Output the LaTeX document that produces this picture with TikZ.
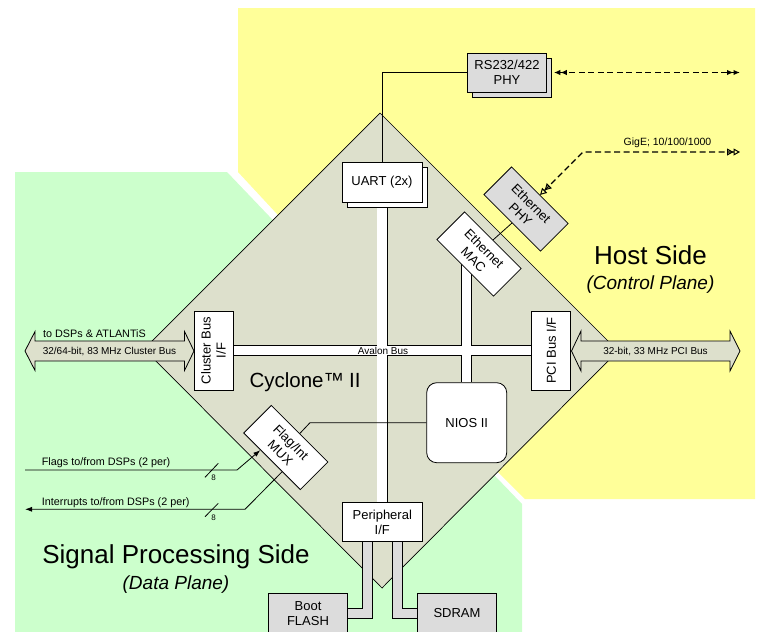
\documentclass[tikz,border=0pt]{standalone}
\usepackage{fontspec}
\setmainfont{Liberation Sans}
\usetikzlibrary{arrows.meta,calc,shadows}
\definecolor{ylw}{RGB}{255,255,153}
\definecolor{grn}{RGB}{204,255,204}
\definecolor{chip}{RGB}{221,224,204}
\definecolor{gbox}{RGB}{220,220,220}
\pgfdeclarelayer{bg}
\pgfdeclarelayer{bus}
\pgfsetlayers{bg,bus,main}
\tikzset{
  boxw/.style={draw=black, line width=0.8pt, fill=white, minimum width=80pt,
    minimum height=39pt, inner sep=1pt, align=center,
    font=\fontsize{13}{15}\selectfont},
  boxg/.style={boxw, fill=gbox},
  shadowbox/.style={general shadow={shadow xshift=5pt, shadow yshift=-5pt,
    fill=#1, draw=black, line width=0.8pt}},
  lbl/.style={inner sep=0pt, font=\fontsize{10.8}{13}\selectfont},
  smalllbl/.style={inner sep=0pt, font=\fontsize{10}{12}\selectfont},
  conn/.style={draw=black, line width=0.8pt},
  dashy/.style={line width=1.4pt, dash pattern=on 6pt off 3.5pt},
  busout/.style={line width=11pt, black},
  busin/.style={line width=9.4pt, white},
  memout/.style={line width=10.5pt, black},
  memin/.style={line width=8.9pt, gbox},
  bigarrow/.style={draw=black, line width=0.8pt, fill=chip},
  ftip/.tip={Latex[length=6.5pt,width=5.5pt]},
  otip/.tip={Triangle[open,length=6.5pt,width=7pt,line width=1pt]},
}
\begin{document}
\begin{tikzpicture}[x=1pt,y=-1pt,line join=miter]
\useasboundingbox (0,0) rectangle (761,632);
% ---------------- background regions and chip ----------------
\begin{pgfonlayer}{bg}
\fill[ylw] (238,8) -- (755,8) -- (755,499) -- (525,499) -- (470,444)
  -- (380,350) -- (290,228) -- (238,172) -- cycle;
\fill[grn] (15,172) -- (227,172) -- (290,238) -- (380,350) -- (470,450)
  -- (522,504) -- (522,632) -- (15,632) -- cycle;
\draw[fill=chip, line width=0.7pt] (380,113) -- (618,351) -- (382,588)
  -- (144,349) -- cycle;
\end{pgfonlayer}

% ---------------- region texts ----------------
\node[inner sep=0pt, font=\fontsize{26}{31}\selectfont] (host) at (650.5,255) {Host Side};
\node[inner sep=0pt, font=\fontsize{19}{23}\selectfont\itshape] (ctrl) at (650.5,285) {(Control Plane)};
\node[inner sep=0pt, font=\fontsize{26}{31}\selectfont] (sps) at (176,557) {Signal Processing Side};
\node[inner sep=0pt, font=\fontsize{19}{23}\selectfont\itshape] (dp) at (176,585) {(Data Plane)};
\node[inner sep=0pt, font=\fontsize{20.5}{24}\selectfont] (cyc) at (305,382.5) {Cyclone™\hspace{5pt}II};

% ---------------- big bus arrows ----------------
\path[bigarrow] (25,351) -- (35,331.5) -- (35,341) -- (184.5,341) -- (184.5,331.5)
  -- (194,351) -- (184.5,370.5) -- (184.5,361) -- (35,361) -- (35,370.5) -- cycle;
\path[bigarrow] (571.5,351) -- (581,331) -- (581,341) -- (730,341) -- (730,331)
  -- (740,351) -- (730,371) -- (730,361) -- (581,361) -- (581,371) -- cycle;
\node[lbl] (dsps) at (94.5,334) {to DSPs \& ATLANTiS};
\node[smalllbl] (clbus) at (109.5,351.5) {32/64-bit, 83 MHz Cluster Bus};
\node[smalllbl] (pcibus) at (655.5,351.5) {32-bit, 33 MHz PCI Bus};

% ---------------- blocks ----------------
\node[boxg, minimum width=79pt, shadowbox=gbox] (rs) at (507,72.5) {RS232/422\\PHY};
\node[boxw, minimum height=40pt, shadowbox=white] (uart) at (382,182) {UART (2x)};
\node[boxw, rotate=-45] (mac) at (479,254) {Ethernet\\MAC};
\node[boxg, rotate=-45] (phy) at (526,209) {Ethernet\\PHY};
\node[boxw, rotate=90, minimum width=79pt] (clu) at (213.5,350.5) {Cluster Bus\\I/F};
\node[boxw, rotate=90, minimum width=79pt] (pci) at (551.3,350.5) {PCI Bus I/F};
\node[boxw, minimum height=80pt, rounded corners=10pt] (nios) at (466.7,422.7) {NIOS II};
\node[boxw, rotate=-45] (mux) at (285.8,447.5) {Flag/Int\\MUX};
\node[boxw, minimum height=39.5pt] (per) at (382.3,522) {Peripheral\\I/F};
\node[boxg, minimum width=79.5pt] (flash) at (308,613.3) {Boot\\FLASH};
\node[boxg, minimum width=79.5pt] (sdram) at (457,613.3) {SDRAM};

% ---------------- internal buses ----------------
\coordinate (b1) at (367.3,613.3);
\coordinate (b2) at (397.7,613.3);
\begin{pgfonlayer}{bus}
\draw[busout] (clu.south) -- (pci.north);
\draw[busout] (uart.south) -- (uart.south |- per.north);
\draw[busout] (nios.north |- mac.center) -- (nios.north);
\draw[busin] (clu.south) -- (pci.north);
\draw[busin] (uart.south) -- (uart.south |- per.north);
\draw[busin] (nios.north |- mac.center) -- (nios.north);
\draw[memout] ($(per.south -| b1)+(0,-3)$) -- (b1) -- ($(flash.east)+(-3,0)$);
\draw[memout] ($(per.south -| b2)+(0,-3)$) -- (b2) -- ($(sdram.west)+(3,0)$);
\draw[memin] ($(per.south -| b1)+(0,-3)$) -- (b1) -- ($(flash.east)+(-3,0)$);
\draw[memin] ($(per.south -| b2)+(0,-3)$) -- (b2) -- ($(sdram.west)+(3,0)$);
\end{pgfonlayer}
\node[inner sep=0pt, font=\fontsize{10}{12}\selectfont] (aval) at (383,350.5) {Avalon Bus};

% ---------------- connectors ----------------
\draw[conn] (rs.west) -| (uart.north);
\draw[conn] (mac.north) -- (phy.south);
\coordinate (k1) at (310,422.7);
\draw[conn] (nios.west) -- (k1) -- (mux.north);

% RS232 external link
\coordinate (rsA) at ($(rs.east)+(7,0)$);
\coordinate (rsB) at (740,72.5);
\draw[dashy, {ftip[]ftip[]}-{ftip[]ftip[]}] (rsA) -- (rsB);

% GigE link
\coordinate (g1) at (583,152);
\coordinate (g2) at (740,152);
\draw[dashy, {otip[]otip[]}-{otip[]otip[]}] (phy.north) -- (g1) -- (g2);
\node[inner sep=0pt, font=\fontsize{10.5}{12}\selectfont] (gige) at (667.5,143) {GigE; 10/100/1000};

% Flags and interrupts
\coordinate (f0) at (25,470);
\coordinate (f1) at (237,470);
\draw[conn, -{Latex[length=7pt,width=5pt]}] (f0) -- (f1) -- ($(mux.south west)!0.3!(mux.south east)$);
\coordinate (i0) at (25,509.3);
\coordinate (i1) at (245,509.3);
\draw[conn, -{Latex[length=7pt,width=5pt]}] ($(mux.south west)!0.68!(mux.south east)$) -- (i1) -- (i0);
\coordinate (s1a) at (205,477.3);
\coordinate (s1b) at (218.3,463.3);
\draw[conn] (s1a) -- (s1b);
\coordinate (s2a) at (205,516.7);
\coordinate (s2b) at (218.3,503.3);
\draw[conn] (s2a) -- (s2b);
\node[inner sep=0pt, font=\fontsize{8}{9}\selectfont] (n8a) at (213.5,477.5) {8};
\node[inner sep=0pt, font=\fontsize{8}{9}\selectfont] (n8b) at (213.5,517.5) {8};
\node[lbl, anchor=west] (flg) at (41.7,462.7) {Flags to/from DSPs (2 per)};
\node[lbl, anchor=west] (intr) at (41.7,502.3) {Interrupts to/from DSPs (2 per)};
\end{tikzpicture}
\end{document}
